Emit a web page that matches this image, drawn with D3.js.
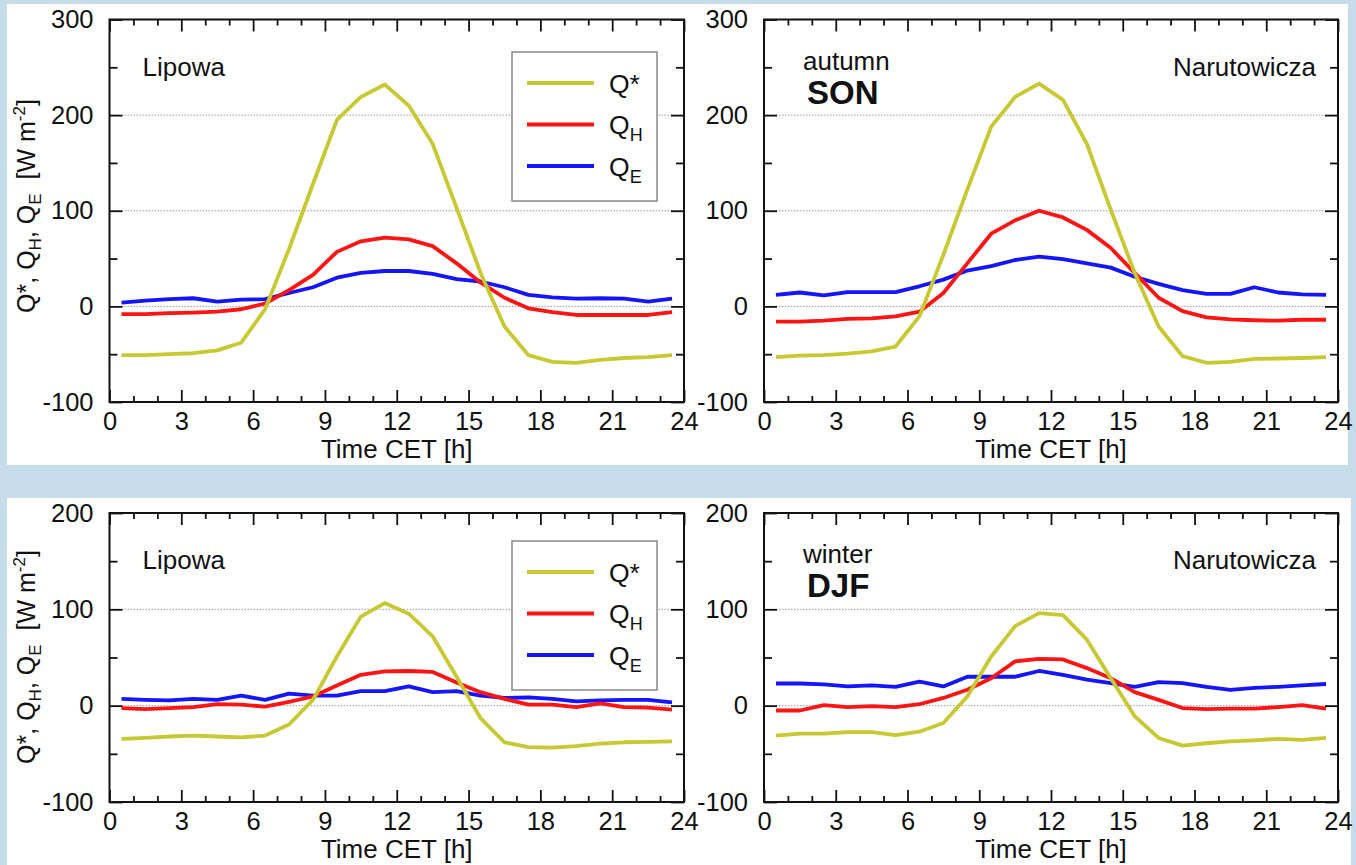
<!DOCTYPE html>
<html><head><meta charset="utf-8">
<script src="https://cdn.jsdelivr.net/npm/d3@7"></script>
<style>
body{margin:0;background:#c7dcea;}
svg{display:block;}
text{font-family:"Liberation Sans",Arial,sans-serif;fill:#111;}
</style>
</head><body><svg id="c" width="1356" height="865"></svg>
<script>
// ---------------- DATA ----------------
const hours = [0.5,1.5,2.5,3.5,4.5,5.5,6.5,7.5,8.5,9.5,10.5,11.5,12.5,13.5,14.5,15.5,16.5,17.5,18.5,19.5,20.5,21.5,22.5,23.5];

// autumn (SON), Lipowa
const sonLipowaQstar = [-51,-51,-50,-49,-46,-38,-3,60,128,195,219,232,210,170,103,35,-21,-51,-58,-59,-56,-54,-53,-51];
const sonLipowaQH    = [-8,-8,-7,-6.5,-5.5,-3,3,17,33,57,68,72,70,63,45,25,9,-2,-6,-9,-9,-9,-9,-6];
const sonLipowaQE    = [4,6,7.5,8.5,5,7,7.5,14,20,30,35,37,37,34,28.5,26,20,12,9.5,8,8.5,8,5,8];

// autumn (SON), Narutowicza
const sonNarutQstar = [-53,-51.5,-51,-49.5,-47,-42,-10.5,54,122,188,219,233,216,170,101,35,-21,-52,-59,-58,-55,-54.5,-54,-53];
const sonNarutQH    = [-16,-16,-15,-13,-12.5,-10.5,-5.5,14,45,76,90,100,93,80,61,35,9,-5,-11.5,-13.5,-14.5,-15,-14,-14];
const sonNarutQE    = [12,14.5,11.5,15,15,15,21,28,37.5,42,48.5,52,49.5,45,40.5,31,23.5,17,13,13,20,14.5,12.5,12];

// winter (DJF), Lipowa
const djfLipowaQstar = [-34.5,-33.5,-32,-31,-32,-33,-31,-19.5,6,51,92.5,106.5,95.5,72,30,-13,-38,-43,-43.5,-42,-39.5,-38,-37.5,-37];
const djfLipowaQH    = [-2.5,-3.5,-2.5,-1.5,1.5,1,-1,4,9.5,21,32,35.5,36,35,24,14,7,1,1,-1.5,2.5,-1.5,-2,-4];
const djfLipowaQE    = [7,6,5.5,7,6,10.5,6,12.5,10.5,10.5,15,15,20,14,15,10.5,8,8.5,7,4.5,5.5,6,6,3.5];

// winter (DJF), Narutowicza
const djfNarutQstar = [-31,-29,-29,-27.5,-27.5,-30.5,-27,-18,9.5,51,82.5,96,94,68.5,28.5,-11,-33.5,-41.5,-39,-37,-36,-34.5,-35.5,-33.5];
const djfNarutQH    = [-5,-5,0.5,-1.5,-0.5,-1.5,1.5,8,16.5,28.5,46,48.5,48,39,28.5,14,6,-2.5,-3.5,-3,-3,-1.5,0.5,-3];
const djfNarutQE    = [23,23,22,20,21,19.5,25,20,30,30,30,36,32,27,23.5,19.5,24.5,23.5,19.5,16.5,18.5,19.5,21,22.5];

// tick labels
const xTicks = [0,3,6,9,12,15,18,21,24];
const xMinorTicks = [1,2,4,5,7,8,10,11,13,14,16,17,19,20,22,23];
const yTicksAutumn = [-100,0,100,200,300];
const yMinorAutumn = [-50,50,150,250];
const yTicksWinter = [-100,0,100,200];
const yMinorWinter = [-50,50,150];

const seriesNames = ["Q*","QH","QE"];
const seriesColors = ["#c8c832","#ff1414","#1414ff"];

// ---------------- LAYOUT ----------------
const svg = d3.select("#c");
svg.append("rect").attr("x",0).attr("y",0).attr("width",1356).attr("height",865).attr("fill","#c7dcea");
svg.append("rect").attr("x",7).attr("y",4).attr("width",1341).attr("height",461).attr("fill","#fff");
svg.append("rect").attr("x",7).attr("y",498).attr("width",1344).attr("height",367).attr("fill","#fff");

const panels = [
  {x0:109.5,x1:684,y0:19.5,y1:402,dom:[-100,300],major:yTicksAutumn,minor:yMinorAutumn,grid:[0,100,200],
   series:[sonLipowaQstar,sonLipowaQH,sonLipowaQE],site:"Lipowa",siteSide:"left",legend:{x:512,y:52},ytitle:206},
  {x0:764,x1:1338,y0:19.5,y1:402,dom:[-100,300],major:yTicksAutumn,minor:yMinorAutumn,grid:[0,100,200],
   series:[sonNarutQstar,sonNarutQH,sonNarutQE],site:"Narutowicza",siteSide:"right",season:["autumn","SON"]},
  {x0:109.5,x1:684,y0:513,y1:802,dom:[-100,200],major:yTicksWinter,minor:yMinorWinter,grid:[0,100],
   series:[djfLipowaQstar,djfLipowaQH,djfLipowaQE],site:"Lipowa",siteSide:"left",legend:{x:512,y:541},ytitle:657},
  {x0:764,x1:1338,y0:513,y1:802,dom:[-100,200],major:yTicksWinter,minor:yMinorWinter,grid:[0,100],
   series:[djfNarutQstar,djfNarutQH,djfNarutQE],site:"Narutowicza",siteSide:"right",season:["winter","DJF"]}
];

const fmt = d => String(d);   // plain hyphen-minus, like the original

function styleAxis(g){
  g.select(".domain").remove();
  g.selectAll(".tick line").attr("stroke","#111").attr("stroke-width",1.8);
  g.selectAll(".tick text").attr("font-size",25.5).attr("fill","#111")
   .attr("font-family","'Liberation Sans',Arial,sans-serif");
}

panels.forEach(p=>{
  const x = d3.scaleLinear().domain([0,24]).range([p.x0,p.x1]);
  const y = d3.scaleLinear().domain(p.dom).range([p.y1,p.y0]);
  const g = svg.append("g");

  // grid
  g.selectAll(".grid").data(p.grid).enter().append("line")
    .attr("x1",p.x0).attr("x2",p.x1).attr("y1",d=>y(d)).attr("y2",d=>y(d))
    .attr("stroke","#999").attr("stroke-width",1).attr("stroke-dasharray","1.5,1.5");

  // legend box (white, covers grid)
  if(p.legend){
    const L = p.legend;
    const lg = g.append("g");
    lg.append("rect").attr("x",L.x).attr("y",L.y).attr("width",145).attr("height",149)
      .attr("fill","#fff").attr("stroke","#888").attr("stroke-width",1.5);
    seriesNames.forEach((nm,i)=>{
      const ly = L.y + 31 + i*41.5;
      lg.append("line").attr("x1",L.x+15).attr("x2",L.x+82).attr("y1",ly).attr("y2",ly)
        .attr("stroke",seriesColors[i]).attr("stroke-width",4);
      const t = lg.append("text").attr("x",L.x+97).attr("y",ly+9.5).attr("font-size",26.5);
      if(i===0){ t.text("Q*"); }
      else {
        t.append("tspan").text("Q");
        t.append("tspan").attr("font-size",18).attr("dy",7).text(nm.slice(1));
      }
    });
  }

  // series lines
  const line = d3.line().x((d,i)=>x(hours[i])).y(d=>y(d));
  [2,1,0].forEach(i=>{
    g.append("path").datum(p.series[i]).attr("d",line)
      .attr("fill","none").attr("stroke",seriesColors[i]).attr("stroke-width",3.8)
      .attr("stroke-linejoin","round");
  });

  // axes: bottom (labels), top, left (labels), right
  const ax = g.append("g");
  ax.append("g").attr("transform",`translate(0,${p.y1})`)
    .call(d3.axisBottom(x).tickValues(xTicks).tickSize(-12).tickPadding(10).tickFormat(fmt)).call(styleAxis);
  ax.append("g").attr("transform",`translate(0,${p.y1})`)
    .call(d3.axisBottom(x).tickValues(xMinorTicks).tickSize(-6).tickFormat("")).call(styleAxis);
  ax.append("g").attr("transform",`translate(0,${p.y0})`)
    .call(d3.axisTop(x).tickValues(xTicks).tickSize(-12).tickFormat("")).call(styleAxis);
  ax.append("g").attr("transform",`translate(0,${p.y0})`)
    .call(d3.axisTop(x).tickValues(xMinorTicks).tickSize(-6).tickFormat("")).call(styleAxis);
  ax.append("g").attr("transform",`translate(${p.x0},0)`)
    .call(d3.axisLeft(y).tickValues(p.major).tickSize(-13).tickPadding(16).tickFormat(fmt)).call(styleAxis);
  ax.append("g").attr("transform",`translate(${p.x0},0)`)
    .call(d3.axisLeft(y).tickValues(p.minor).tickSize(-8).tickFormat("")).call(styleAxis);
  ax.append("g").attr("transform",`translate(${p.x1},0)`)
    .call(d3.axisRight(y).tickValues(p.major).tickSize(-13).tickFormat("")).call(styleAxis);
  ax.append("g").attr("transform",`translate(${p.x1},0)`)
    .call(d3.axisRight(y).tickValues(p.minor).tickSize(-8).tickFormat("")).call(styleAxis);

  // frame
  g.append("rect").attr("x",p.x0).attr("y",p.y0).attr("width",p.x1-p.x0).attr("height",p.y1-p.y0)
    .attr("fill","none").attr("stroke","#111").attr("stroke-width",2);

  // x title
  g.append("text").attr("x",(p.x0+p.x1)/2).attr("y",p.y1+56).attr("text-anchor","middle")
    .attr("font-size",26).text("Time CET [h]");

  // y title
  if(p.ytitle){
    const t = g.append("text").attr("transform",`translate(35,${p.ytitle}) rotate(-90)`)
      .attr("text-anchor","middle").attr("font-size",25);
    t.append("tspan").text("Q*, Q");
    t.append("tspan").attr("font-size",17).attr("dy",6).text("H");
    t.append("tspan").attr("dy",-6).text(", Q");
    t.append("tspan").attr("font-size",17).attr("dy",6).text("E");
    t.append("tspan").attr("dy",-6).text("\u00a0\u00a0[W m");
    t.append("tspan").attr("font-size",17).attr("dy",-10).text("-2");
    t.append("tspan").attr("dy",10).text("]");
  }

  // site label
  if(p.siteSide==="left"){
    g.append("text").attr("x",p.x0+33).attr("y",p.y0+56).attr("font-size",26).text(p.site);
  } else {
    g.append("text").attr("x",p.x1-22).attr("y",p.y0+56).attr("text-anchor","end").attr("font-size",26).text(p.site);
  }
  if(p.season){
    g.append("text").attr("x",p.x0+39).attr("y",p.y0+50).attr("font-size",26).text(p.season[0]);
    g.append("text").attr("x",p.x0+43).attr("y",p.y0+84).attr("font-size",33).attr("font-weight","bold").text(p.season[1]);
  }
});
</script>
</body></html>
